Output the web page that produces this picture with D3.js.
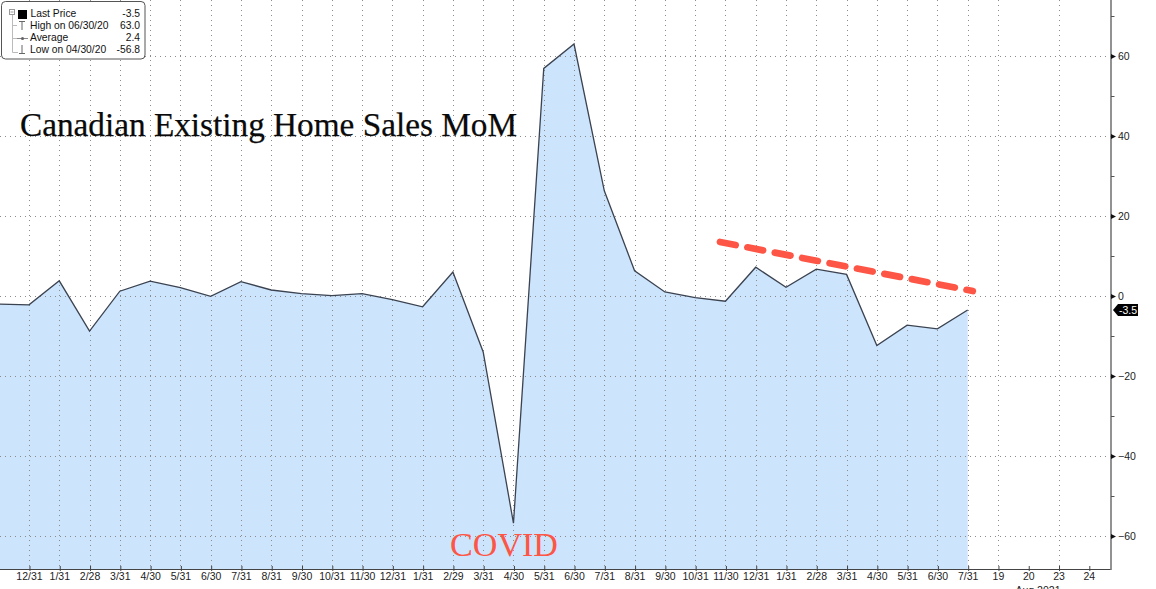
<!DOCTYPE html>
<html><head><meta charset="utf-8">
<script src="https://cdn.jsdelivr.net/npm/d3@7/dist/d3.min.js"></script>
<style>
html,body{margin:0;padding:0;background:#fff;overflow:hidden}
svg{display:block}
</style></head>
<body>
<svg id="c" width="1156" height="589"></svg>
<script>
// ---- data ----
const categories = ["11/30","12/31","1/31","2/28","3/31","4/30","5/31","6/30","7/31","8/31","9/30","10/31","11/30","12/31","1/31","2/29","3/31","4/30","5/31","6/30","7/31","8/31","9/30","10/31","11/30","12/31","1/31","2/28","3/31","4/30","5/31","6/30","7/31","19","20","23","24"];
const values = [-2.0,-2.2,3.8,-8.8,1.2,3.7,2.1,-0.1,3.6,1.5,0.6,0.1,0.6,-0.9,-2.7,6.0,-14.0,-56.8,56.9,63.0,26.3,6.3,1.0,-0.4,-1.3,7.2,2.2,6.7,5.4,-12.4,-7.3,-8.2,-3.5];
const yTicks = [60,40,20,0,-20,-40,-60];
const yMinor = [70,50,30,10,-10,-30,-50];
const vGridIdx = [1,2,3,4,5,6,7,8,9,10,11,12,13,14,15,16,17,18,19,20,21,22,23,24,25,26,27,28,29,30,31,32,33,35];
const legendRows = [["Last Price","-3.5"],["High on 06/30/20","63.0"],["Average","2.4"],["Low on 04/30/20","-56.8"]];
const trendLine = [{i:23.82,v:13.5},{i:32.17,v:1.25}];
const lastValue = -3.5;

const svg = d3.select("#c");
const axisX = 1111, plotBottom = 569;
const x = d3.scaleLinear().domain([0,36]).range([-1.3,1088.8]);
const y = d3.scaleLinear().domain([-68.25,74]).range([plotBottom,0]);

const plot = svg.append("g");
plot.append("clipPath").attr("id","clip").append("rect").attr("x",0).attr("y",0).attr("width",axisX).attr("height",plotBottom);
const gp = plot.append("g").attr("clip-path","url(#clip)");

const pts = values.map((v,i)=>({i,v}));
// area
gp.append("path").datum(pts)
  .attr("d", d3.area().x(d=>x(d.i)).y0(plotBottom).y1(d=>y(d.v)))
  .attr("fill","#cce4fc");

// grid
const grid = gp.append("g").attr("stroke","#8c8c8c").attr("stroke-width",1).attr("stroke-dasharray","1,4");
grid.selectAll("line.h").data(yTicks).join("line").attr("class","h")
  .attr("x1",0).attr("x2",axisX).attr("y1",d=>Math.round(y(d))+0.5).attr("y2",d=>Math.round(y(d))+0.5);
grid.selectAll("line.v").data(vGridIdx).join("line").attr("class","v")
  .attr("x1",d=>Math.round(x(d))+0.5).attr("x2",d=>Math.round(x(d))+0.5).attr("y1",0).attr("y2",plotBottom);

// line
gp.append("path").datum(pts)
  .attr("d", d3.line().x(d=>x(d.i)).y(d=>y(d.v)))
  .attr("fill","none").attr("stroke","#3b4250").attr("stroke-width",1.3).attr("stroke-linejoin","miter");

// trend annotation
gp.append("path").datum(trendLine)
  .attr("d", d3.line().x(d=>x(d.i)).y(d=>y(d.v)))
  .attr("fill","none").attr("stroke","#fd5646").attr("stroke-width",6.7)
  .attr("stroke-linecap","round").attr("stroke-dasharray","16,11.9");

// x axis
const xAxis = d3.axisBottom(x).tickValues(d3.range(1,37)).tickFormat(i=>categories[i]).tickSize(0).tickPadding(0);
const gx = svg.append("g").attr("transform",`translate(0,${plotBottom})`).call(xAxis);
gx.select(".domain").remove();
gx.selectAll("text").attr("y",11).attr("dy",0).attr("font-family","'Liberation Sans', Arial, sans-serif").attr("font-size",10.5).attr("fill","#222");
gx.selectAll(".tick").append("line").attr("x1",0.5).attr("x2",0.5).attr("y1",-3).attr("y2",2).attr("stroke","#444");
svg.append("line").attr("x1",0).attr("x2",axisX).attr("y1",plotBottom+0.5).attr("y2",plotBottom+0.5).attr("stroke","#444").attr("stroke-width",1.2);
svg.append("text").attr("x",1038).attr("y",594).attr("text-anchor","middle")
  .attr("font-family","'Liberation Sans', Arial, sans-serif").attr("font-size",10.5).attr("fill","#222").text("Aug 2021");

// y axis
svg.append("line").attr("x1",axisX).attr("x2",axisX).attr("y1",0).attr("y2",plotBottom+1).attr("stroke","#777").attr("stroke-width",1.6);
const yAxis = d3.axisRight(y).tickValues(yTicks).tickSize(0).tickPadding(7);
const gy = svg.append("g").attr("transform",`translate(${axisX},0)`).call(yAxis);
gy.select(".domain").remove();
gy.selectAll("text").attr("font-family","'Liberation Sans', Arial, sans-serif").attr("font-size",10.5).attr("fill","#222");
gy.selectAll(".tick").append("path").attr("d","M0,-2.5L5,0L0,2.5Z").attr("fill","#111");
svg.append("g").selectAll("line").data(yMinor).join("line")
  .attr("x1",axisX).attr("x2",axisX+3.5).attr("y1",d=>Math.round(y(d))+0.5).attr("y2",d=>Math.round(y(d))+0.5)
  .attr("stroke","#555");

// last value tag
const ly = y(lastValue);
svg.append("path").attr("d",`M${axisX+2},${ly}L${axisX+7},${ly-6}L${axisX+27},${ly-6}L${axisX+27},${ly+6}L${axisX+7},${ly+6}Z`).attr("fill","#000");
svg.append("text").attr("x",axisX+8).attr("y",ly+3.8).attr("font-family","'Liberation Sans', Arial, sans-serif").attr("font-size",10.5).attr("fill","#fff").text(lastValue.toFixed(1));

// title
svg.append("text").attr("x",20).attr("y",136).attr("font-family","'Liberation Serif', 'Times New Roman', serif")
  .attr("font-size",34).attr("fill","#0a0a0a").attr("stroke","#0a0a0a").attr("stroke-width",0.25)
  .attr("textLength",497).attr("lengthAdjust","spacingAndGlyphs")
  .text("Canadian Existing Home Sales MoM");
svg.append("text").attr("x",450).attr("y",556).attr("font-family","'Liberation Serif', 'Times New Roman', serif")
  .attr("font-size",34).attr("fill","#fd5646").attr("textLength",108).attr("lengthAdjust","spacingAndGlyphs")
  .text("COVID");

// legend
const lg = svg.append("g");
lg.append("rect").attr("x",1.5).attr("y",1.5).attr("width",143.5).attr("height",57.5).attr("rx",4)
  .attr("fill","#fff").attr("stroke","#555").attr("stroke-width",1);
lg.append("rect").attr("x",9.5).attr("y",9.5).attr("width",5).attr("height",5).attr("fill","#fff").attr("stroke","#999");
lg.append("line").attr("x1",10.5).attr("x2",13.5).attr("y1",12).attr("y2",12).attr("stroke","#999");
lg.append("rect").attr("x",18).attr("y",10).attr("width",9).attr("height",9).attr("fill","#000");
lg.append("path").attr("d","M12.5,15V52.5H18M12.5,25.5H17M12.5,38.5H17").attr("fill","none").attr("stroke","#bbb");
lg.append("path").attr("d","M19,21.5H25M22,21.5V30").attr("stroke","#666").attr("fill","none");
lg.append("path").attr("d","M17,38.5H28").attr("stroke","#888").attr("fill","none");
lg.append("circle").attr("cx",22.5).attr("cy",38.5).attr("r",1.6).attr("fill","#666");
lg.append("path").attr("d","M22,45V53.5M19,53.5H25").attr("stroke","#666").attr("fill","none");
const rowsY = [17,29,41,53];
lg.selectAll("text.l").data(legendRows).join("text").attr("class","l")
  .attr("x",(d,i)=>i===0?30.5:30).attr("y",(d,i)=>rowsY[i])
  .attr("font-family","'Liberation Sans', Arial, sans-serif").attr("font-size",10.3).attr("fill","#111").text(d=>d[0]);
lg.selectAll("text.r").data(legendRows).join("text").attr("class","r")
  .attr("x",140).attr("y",(d,i)=>rowsY[i]).attr("text-anchor","end")
  .attr("font-family","'Liberation Sans', Arial, sans-serif").attr("font-size",10.3).attr("fill","#111").text(d=>d[1]);
</script>
</body></html>
